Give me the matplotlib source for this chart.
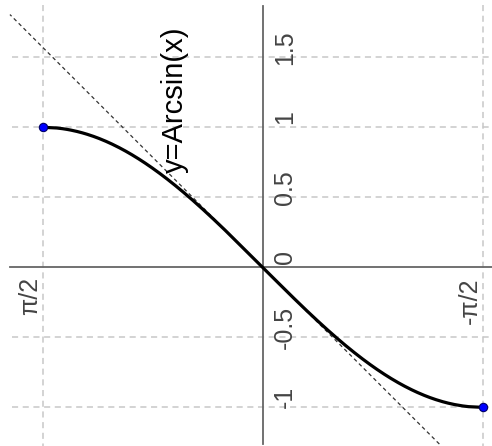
import numpy as np
import matplotlib
matplotlib.use("Agg")
import matplotlib.pyplot as plt

# values of the picture (graph of y = Arcsin(x), drawn turned a quarter turn)
x_ticks = [-1, -0.5, 0, 0.5, 1, 1.5]
x_tick_labels = ["-1", "-0.5", "0", "0.5", "1", "1.5"]
y_ticks = [np.pi / 2, -np.pi / 2]
y_tick_labels = ["π/2", "-π/2"]
end_x = [1, -1]
end_y = [np.pi / 2, -np.pi / 2]
curve_label = "y=Arcsin(x)"
label_pos = (0.626, 1.195)

xs = np.linspace(-1, 1, 400)
ys = np.arcsin(xs)

fig = plt.figure(figsize=(4.92, 4.46), dpi=100)
ax = fig.add_axes([0, 0, 1, 1])
ax.set_axis_off()
# horizontal direction = arcsin value (reversed), vertical = x
ax.set_xlim(1.876, -1.638)
ax.set_ylim(-1.276, 1.909)

grid_kw = dict(color="#c8c8c8", lw=1.1, ls=(0, (4, 3)), zorder=1)
for v in x_ticks:
    if v != 0:
        ax.plot([1.79, -1.638], [v, v], **grid_kw)
for h in y_ticks:
    ax.plot([h, h], [1.87, -1.276], **grid_kw)

# axes
ax.plot([1.805, -1.638], [0, 0], color="#666666", lw=1.3, zorder=2)
ax.plot([0, 0], [1.866, -1.262], color="#666666", lw=1.3, zorder=2)

# tangent at origin
t = np.array([-1.262, 1.805])
ax.plot(t, t, color="#333333", lw=0.9, ls=(0, (3, 2.5)), zorder=3)

ax.plot(ys, xs, color="black", lw=2.3, zorder=4)
ax.plot(end_y, end_x, "o", color="#0000ff", mec="#000066", mew=0.8, ms=6, zorder=5)

font = "Liberation Sans"
for v, lab in zip(x_ticks, x_tick_labels):
    ax.annotate(lab, xy=(0, v), xytext=(10, 10), textcoords="offset pixels",
                ha="left", va="center", rotation=90, fontsize=18,
                color="#444444", family=font)
for h, lab in zip(y_ticks, y_tick_labels):
    ax.annotate(lab, xy=(h, 0), xytext=(-1, -10), textcoords="offset pixels",
                ha="right", va="top", rotation=90, fontsize=18,
                color="#444444", family=font)

ax.text(*label_pos, curve_label, rotation=90, ha="center", va="center",
        fontsize=21, color="black", family=font)

fig.savefig("out.png", dpi=100)
